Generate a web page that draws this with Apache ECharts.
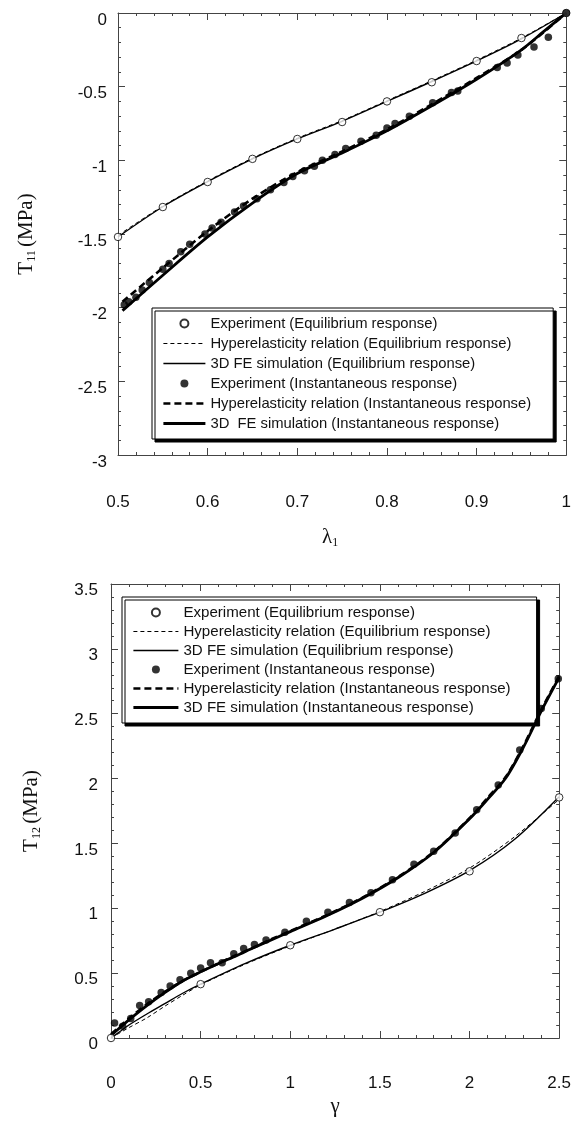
<!DOCTYPE html>
<html>
<head>
<meta charset="utf-8">
<script src="https://cdn.jsdelivr.net/npm/echarts@6/dist/echarts.min.js"></script>
<style>
html,body{margin:0;padding:0;background:#fff}
#main{width:574px;height:1122px}
</style>
</head>
<body>
<div id="main"></div>
<script>
// top panel: T11 vs lambda1
var eqExp11 = [[0.5,-1.52],[0.55,-1.317],[0.6,-1.147],[0.65,-0.99],[0.7,-0.855],[0.75,-0.74],[0.8,-0.60],[0.85,-0.47],[0.9,-0.326],[0.95,-0.17],[1,0]];
var eqHyper11 = [[0.5,-1.51],[0.55,-1.31],[0.6,-1.14],[0.65,-0.985],[0.7,-0.85],[0.75,-0.73],[0.8,-0.595],[0.85,-0.46],[0.9,-0.32],[0.95,-0.17],[1,0]];
var eqFE11 = [[0.5,-1.52],[0.55,-1.315],[0.6,-1.145],[0.65,-0.99],[0.7,-0.855],[0.75,-0.735],[0.8,-0.60],[0.85,-0.465],[0.9,-0.325],[0.95,-0.175],[1,0]];
var instExp11 = [[0.507,-1.98],[0.512,-1.96],[0.52,-1.93],[0.527,-1.88],[0.535,-1.83],[0.55,-1.74],[0.557,-1.70],[0.57,-1.62],[0.58,-1.57],[0.597,-1.50],[0.605,-1.46],[0.615,-1.42],[0.63,-1.35],[0.64,-1.31],[0.655,-1.26],[0.67,-1.20],[0.685,-1.15],[0.695,-1.11],[0.708,-1.07],[0.719,-1.04],[0.728,-1.00],[0.742,-0.96],[0.754,-0.92],[0.771,-0.87],[0.788,-0.83],[0.80,-0.78],[0.809,-0.75],[0.825,-0.70],[0.851,-0.61],[0.872,-0.54],[0.879,-0.53],[0.923,-0.37],[0.934,-0.34],[0.946,-0.285],[0.964,-0.23],[0.98,-0.165],[1,0]];
var instHyper11 = [[0.505,-1.96],[0.55,-1.73],[0.6,-1.48],[0.65,-1.26],[0.7,-1.08],[0.75,-0.94],[0.8,-0.79],[0.85,-0.62],[0.9,-0.44],[0.95,-0.25],[1,0]];
var instFE11 = [[0.505,-2.02],[0.55,-1.78],[0.6,-1.52],[0.65,-1.29],[0.7,-1.09],[0.75,-0.95],[0.8,-0.80],[0.85,-0.63],[0.9,-0.45],[0.95,-0.25],[0.975,-0.125],[1,0]];

// bottom panel: T12 vs gamma
var eqExp12 = [[0,0],[0.5,0.415],[1,0.715],[1.5,0.97],[2,1.285],[2.5,1.855]];
var eqHyper12 = [[0,0],[0.05,0.04],[0.1,0.08],[0.2,0.155],[0.3,0.245],[0.4,0.33],[0.5,0.41],[0.75,0.57],[1,0.71],[1.25,0.84],[1.5,0.975],[1.75,1.13],[2,1.31],[2.25,1.55],[2.5,1.84]];
var eqFE12 = [[0,0],[0.05,0.05],[0.1,0.1],[0.2,0.185],[0.3,0.265],[0.4,0.345],[0.5,0.415],[0.75,0.575],[1,0.715],[1.25,0.84],[1.5,0.97],[1.75,1.115],[2,1.29],[2.25,1.53],[2.5,1.86]];
var instExp12 = [[0.02,0.115],[0.065,0.09],[0.11,0.15],[0.16,0.25],[0.21,0.28],[0.28,0.35],[0.33,0.40],[0.385,0.45],[0.445,0.50],[0.5,0.54],[0.555,0.58],[0.62,0.58],[0.685,0.65],[0.74,0.69],[0.80,0.72],[0.865,0.755],[0.97,0.815],[1.09,0.90],[1.21,0.97],[1.33,1.045],[1.45,1.12],[1.57,1.22],[1.69,1.34],[1.80,1.44],[1.92,1.58],[2.04,1.76],[2.16,1.95],[2.28,2.22],[2.40,2.54],[2.495,2.77]];
var instHyper12 = [[0,0.03],[0.05,0.09],[0.1,0.15],[0.2,0.26],[0.3,0.355],[0.4,0.44],[0.5,0.51],[0.6,0.575],[0.7,0.64],[0.8,0.7],[0.9,0.765],[1,0.825],[1.2,0.945],[1.4,1.08],[1.6,1.24],[1.8,1.435],[2,1.695],[2.1,1.85],[2.2,2.01],[2.3,2.25],[2.4,2.53],[2.5,2.79]];
var instFE12 = [[0,0.02],[0.05,0.08],[0.1,0.14],[0.2,0.25],[0.3,0.35],[0.4,0.44],[0.5,0.51],[0.6,0.575],[0.7,0.635],[0.8,0.7],[0.9,0.76],[1,0.82],[1.2,0.94],[1.4,1.075],[1.6,1.235],[1.8,1.43],[2,1.69],[2.1,1.84],[2.2,2.0],[2.3,2.24],[2.4,2.52],[2.5,2.78]];

var names11 = ['Experiment (Equilibrium response)','Hyperelasticity relation (Equilibrium response)','3D FE simulation (Equilibrium response)','Experiment (Instantaneous response)','Hyperelasticity relation (Instantaneous response)','3D  FE simulation (Instantaneous response)'];
var names12 = ['Experiment (Equilibrium response)','Hyperelasticity relation (Equilibrium response)','3D FE simulation (Equilibrium response)','Experiment (Instantaneous response)','Hyperelasticity relation (Instantaneous response)','3D FE simulation (Instantaneous response)'];

// line look per series slot: width, dash (null = solid)
var lineWidths = [0, 1, 1.4, 0, 2.6, 2.8];
var lineDashes = [null, [4,3], null, null, [7,4], null];

var sans = 'Liberation Sans, Arial, sans-serif';
var serif = 'Liberation Serif, Times New Roman, serif';
var axisCol = '#444';
var fmt = function(v){ return String(+v.toFixed(2)); };
var titleRich = {
	t:{fontFamily:serif, fontSize:21, color:'#111', lineHeight:22, verticalAlign:'top'},
	s:{fontFamily:serif, fontSize:12, color:'#111', lineHeight:12, verticalAlign:'bottom', padding:[18,0,0,0]}
};

function makeAxis(grid, pos, min, max, interval, labels, extra){
	var ax = {
		gridIndex:grid, type:'value', position:pos, min:min, max:max, interval:interval,
		axisLine:{show:true, onZero:false, lineStyle:{color:axisCol, width:1}},
		axisTick:{show:true, inside:true, length:7, lineStyle:{color:axisCol}},
		minorTick:{show:true, splitNumber:5, length:3, lineStyle:{color:axisCol}},
		splitLine:{show:false}, minorSplitLine:{show:false},
		axisLabel:{show:labels, formatter:fmt, fontFamily:sans, fontSize:17, color:'#111'}
	};
	if(extra){
		for(var k in extra){
			if(k === 'axisLabel'){ for(var j in extra.axisLabel) ax.axisLabel[j] = extra.axisLabel[j]; }
			else ax[k] = extra[k];
		}
	}
	return ax;
}

function lineSeries(name, xi, data, i){
	var ls = {color:'#000', width:lineWidths[i]};
	if(lineDashes[i]) ls.type = lineDashes[i];
	return {name:name, type:'line', xAxisIndex:xi, yAxisIndex:xi, data:data, symbol:'none', smooth:0.3,
		z:(i > 2 ? 4 : 3), itemStyle:{color:'#000'}, lineStyle:ls};
}

function buildSeries(names, xi, d){
	return [
		{name:names[0], type:'scatter', xAxisIndex:xi, yAxisIndex:xi, data:d[0], symbol:'circle', symbolSize:7.5, clip:false, z:6,
			itemStyle:{color:'#fff', borderColor:'#000', borderWidth:1}},
		lineSeries(names[1], xi, d[1], 1),
		lineSeries(names[2], xi, d[2], 2),
		{name:names[3], type:'scatter', xAxisIndex:xi, yAxisIndex:xi, data:d[3], symbol:'circle', symbolSize:7.5, clip:false, z:6,
			itemStyle:{color:'#000'}},
		lineSeries(names[4], xi, d[4], 4),
		lineSeries(names[5], xi, d[5], 5)
	];
}

function makeLegend(names, left, top, itemW, gap, pad, fs){
	// line entries: hide the middle dot, keep the real line width
	var items = names.map(function(n, i){
		if(i % 3 === 0) return {name:n};
		var ls = {width:lineWidths[i], color:'#000'};
		if(lineDashes[i]) ls.type = lineDashes[i];
		return {name:n, itemStyle:{opacity:0}, lineStyle:ls};
	});
	return {
		data:items, orient:'vertical', left:left, top:top, selectedMode:false,
		itemWidth:itemW, itemHeight:8, itemGap:gap, padding:pad,
		textStyle:{fontFamily:sans, fontSize:fs, lineHeight:14, color:'#111'},
		backgroundColor:'#fff', borderColor:'#000', borderWidth:1,
		shadowColor:'#000', shadowBlur:0, shadowOffsetX:3, shadowOffsetY:3
	};
}

var chart = echarts.init(document.getElementById('main'));
var option = {
	animation:false,
	backgroundColor:'#fff',
	grid:[
		{left:118, top:13, width:449, height:442, show:false},
		{left:111, top:584, width:459, height:454, show:false}
	],
	legend:[
		makeLegend(names11, 152, 308, 42, 5, [8,22,8,10], 14.8),
		makeLegend(names12, 122, 597, 45, 4, [8,26,8,10], 15.1)
	],
	xAxis:[
		makeAxis(0,'bottom',0.5,1,0.1,true,{axisLabel:{margin:39},
			name:'{t|λ}{s|1}', nameLocation:'middle', nameGap:72,
			nameTextStyle:{rich:titleRich, padding:[0,24,0,0]}}),
		makeAxis(0,'top',0.5,1,0.1,false),
		makeAxis(1,'bottom',0,2.5,0.5,true,{axisLabel:{margin:37},
			name:'{t|γ}', nameLocation:'middle', nameGap:58,
			nameTextStyle:{rich:titleRich}}),
		makeAxis(1,'top',0,2.5,0.5,false)
	],
	yAxis:[
		makeAxis(0,'left',-3,0,0.5,true,{axisLabel:{margin:11, verticalAlign:'top', lineHeight:14},
			name:'{t|T}{s|11} {t|(MPa)}', nameLocation:'middle', nameRotate:90, nameGap:80,
			nameTextStyle:{rich:titleRich}}),
		makeAxis(0,'right',-3,0,0.5,false),
		makeAxis(1,'left',0,3.5,0.5,true,{axisLabel:{margin:13, verticalAlign:'top', lineHeight:13},
			name:'{t|T}{s|12} {t|(MPa)}', nameLocation:'middle', nameRotate:90, nameGap:68,
			nameTextStyle:{rich:titleRich}}),
		makeAxis(1,'right',0,3.5,0.5,false)
	],
	series:[]
};
var top11 = buildSeries(names11, 0, [eqExp11, eqHyper11, eqFE11, instExp11, instHyper11, instFE11]);
var bot12 = buildSeries(names12, 2, [eqExp12, eqHyper12, eqFE12, instExp12, instHyper12, instFE12]);
bot12.forEach(function(s){ s.yAxisIndex = 2; });
option.series = top11.concat(bot12);
chart.setOption(option);
</script>
</body>
</html>
